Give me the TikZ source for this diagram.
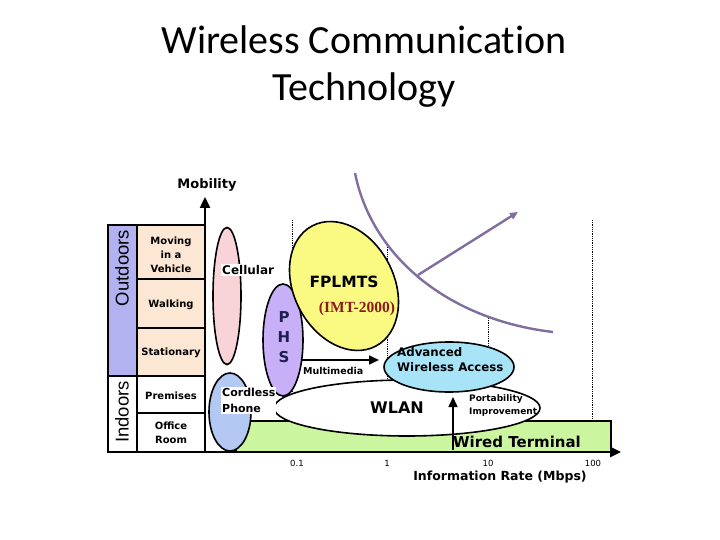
\documentclass[tikz,border=0pt]{standalone}
\usepackage{fontspec}
\setmainfont{Carlito}[Ligatures={NoCommon}]
\newfontfamily\dv{DejaVu Sans}
\newfontfamily\lib{Liberation Sans}
\newfontfamily\tms{Liberation Serif}
\usetikzlibrary{arrows.meta,shapes.geometric}
\definecolor{outcol}{RGB}{178,178,240}
\definecolor{peach}{RGB}{252,230,212}
\definecolor{cellpink}{RGB}{248,212,216}
\definecolor{phscol}{RGB}{200,176,248}
\definecolor{cordcol}{RGB}{180,200,244}
\definecolor{fpyellow}{RGB}{250,250,130}
\definecolor{awacol}{RGB}{168,228,248}
\definecolor{wiredgreen}{RGB}{204,245,160}
\definecolor{curvepurple}{RGB}{127,110,158}
\definecolor{imtred}{RGB}{139,26,26}
\definecolor{phstext}{RGB}{30,30,80}
\tikzset{
  lbl/.style={font=\dv\bfseries\fontsize{10}{14}\selectfont, align=center, inner sep=0pt},
  blob/.style={ellipse, draw=black, line width=1.6pt, inner sep=0pt},
  gridline/.style={densely dotted, line width=0.8pt, black},
  tablebox/.style={line width=1.6pt, black},
  axisline/.style={line width=2.4pt, black, -{Triangle[length=11pt,width=10pt]}},
  blackarrow/.style={line width=1.6pt, black, -{Triangle[length=10pt,width=9pt]}},
}
\begin{document}
\begin{tikzpicture}[x=1pt,y=-1pt]
\useasboundingbox (0,0) rectangle (720,540);

% title
\node[anchor=base, font=\fontsize{40}{48}\selectfont, inner sep=0pt] (t1) at (364,54) {Wireless Communication};
\node[anchor=base, font=\fontsize{40}{48}\selectfont, inner sep=0pt] (t2) at (364,101) {Technology};

% table
\fill[outcol] (108,225) rectangle (137,376);
\fill[peach] (137,225) rectangle (205,376);
\draw[tablebox] (108,225) rectangle (205,452);
\draw[tablebox] (137,225) -- (137,452);
\draw[tablebox] (137,279) -- (205,279);
\draw[tablebox] (137,328) -- (205,328);
\draw[tablebox] (108,376) -- (205,376);
\draw[tablebox] (137,413) -- (205,413);

\node[lbl] (mv) at (171,255) {Moving\\in a\\Vehicle};
\node[lbl] (wk) at (171,305) {Walking};
\node[lbl] (st) at (171,353) {Stationary};
\node[lbl] (pr) at (171,396) {Premises};
\node[lbl] (of) at (171,433) {Office\\Room};
\node[rotate=90, font=\lib\fontsize{18.5}{20}\selectfont, inner sep=0pt] (out) at (122,268) {Outdoors};
\node[rotate=90, font=\lib\fontsize{18.5}{20}\selectfont, inner sep=0pt] (ind) at (122,412) {Indoors};

% dotted grid lines
\draw[gridline] (292,220) -- (292,452);
\draw[gridline] (387,245) -- (387,452);
\draw[gridline] (488,318) -- (488,452);
\draw[gridline] (592,220) -- (592,452);

% wired terminal band
\draw[fill=wiredgreen, line width=1.6pt] (236,421) rectangle (611,452);

% ellipses
\node[blob, fill=cordcol, minimum width=42pt, minimum height=78pt] (cord) at (230,412) {};
\node[blob, fill=cellpink, minimum width=28pt, minimum height=137pt] (cell) at (227,296) {};
\node[blob, fill=white, minimum width=266pt, minimum height=56pt] (wlan) at (407,408) {};
\node[blob, fill=phscol, minimum width=40pt, minimum height=112pt] (phs) at (283,340) {};
\node[blob, fill=fpyellow, minimum width=136pt, minimum height=100pt, rotate=118] (fp) at (344,286) {};
\node[blob, fill=awacol, minimum width=130pt, minimum height=50pt] (awa) at (449,367) {};

% labels on ellipses
\node[anchor=west, fill=white, inner sep=1pt, font=\dv\bfseries\fontsize{12}{15}\selectfont] (celltxt) at (221,270) {Cellular};
\node[anchor=north west, align=left, fill=white, inner sep=1pt, font=\dv\bfseries\fontsize{11}{16}\selectfont] (cordtxt) at (221,387) {Cordless\\Phone};
\node[font=\dv\bfseries\fontsize{15}{17}\selectfont, text=phstext, inner sep=0pt] (p1) at (284,317) {P};
\node[font=\dv\bfseries\fontsize{15}{17}\selectfont, text=phstext, inner sep=0pt] (p2) at (284,337) {H};
\node[font=\dv\bfseries\fontsize{15}{17}\selectfont, text=phstext, inner sep=0pt] (p3) at (284,357) {S};
\node[font=\dv\bfseries\fontsize{15.5}{18}\selectfont, inner sep=0pt] (fptxt) at (344,282) {FPLMTS};
\node[font=\tms\bfseries\fontsize{15.5}{18}\selectfont, text=imtred, inner sep=0pt] (imt) at (357,309) {(IMT-2000)};
\node[anchor=west, align=left, font=\dv\bfseries\fontsize{11.8}{15}\selectfont, inner sep=0pt] (awatxt) at (397,360) {Advanced\\Wireless Access};
\node[font=\dv\bfseries\fontsize{16}{18}\selectfont, inner sep=0pt] (wlantxt) at (397,408) {WLAN};
\node[anchor=west, font=\dv\bfseries\fontsize{9.5}{12}\selectfont, inner sep=0pt] (mmtxt) at (303,371) {Multimedia};
\node[anchor=north west, align=left, font=\dv\bfseries\fontsize{9}{13}\selectfont, inner sep=0pt] (porttxt) at (469,394) {Portability\\Improvement};
\node[font=\dv\bfseries\fontsize{15}{18}\selectfont, inner sep=0pt] (wired) at (517,442) {Wired Terminal};

% purple curve and arrow
\coordinate (c0) at (355,173);
\coordinate (c3) at (553,332);
\draw[curvepurple, line width=2.4pt] (c0) .. controls (372,258) and (450,320) .. (c3);
\coordinate (pa) at (418,275);
\coordinate (pb) at (518,212);
\draw[curvepurple, line width=2.4pt, -{Triangle[length=8pt,width=7pt]}] (pa) -- (pb);

% black arrows
\coordinate (mm1) at (302,360);
\coordinate (mm2) at (379,360);
\draw[blackarrow] (mm1) -- (mm2);
\coordinate (pi1) at (453,450);
\coordinate (pi2) at (453,397);
\draw[blackarrow] (pi1) -- (pi2);

% axes
\coordinate (o) at (205,452);
\coordinate (ytip) at (205,197);
\coordinate (x0) at (108,452);
\coordinate (xtip) at (621,452);
\draw[axisline] (o) -- (ytip);
\draw[axisline] (x0) -- (xtip);

% axis labels
\node[font=\dv\bfseries\fontsize{13}{15}\selectfont, inner sep=0pt] (mob) at (207,185) {Mobility};
\node[font=\dv\fontsize{8.5}{10}\selectfont, inner sep=0pt] (n1) at (297,463) {0.1};
\node[font=\dv\fontsize{8.5}{10}\selectfont, inner sep=0pt] (n2) at (387,463) {1};
\node[font=\dv\fontsize{8.5}{10}\selectfont, inner sep=0pt] (n3) at (488,463) {10};
\node[font=\dv\fontsize{8.5}{10}\selectfont, inner sep=0pt] (n4) at (593,463) {100};
\node[font=\dv\bfseries\fontsize{12.5}{15}\selectfont, inner sep=0pt] (irate) at (500,477) {Information Rate (Mbps)};
\end{tikzpicture}
\end{document}
